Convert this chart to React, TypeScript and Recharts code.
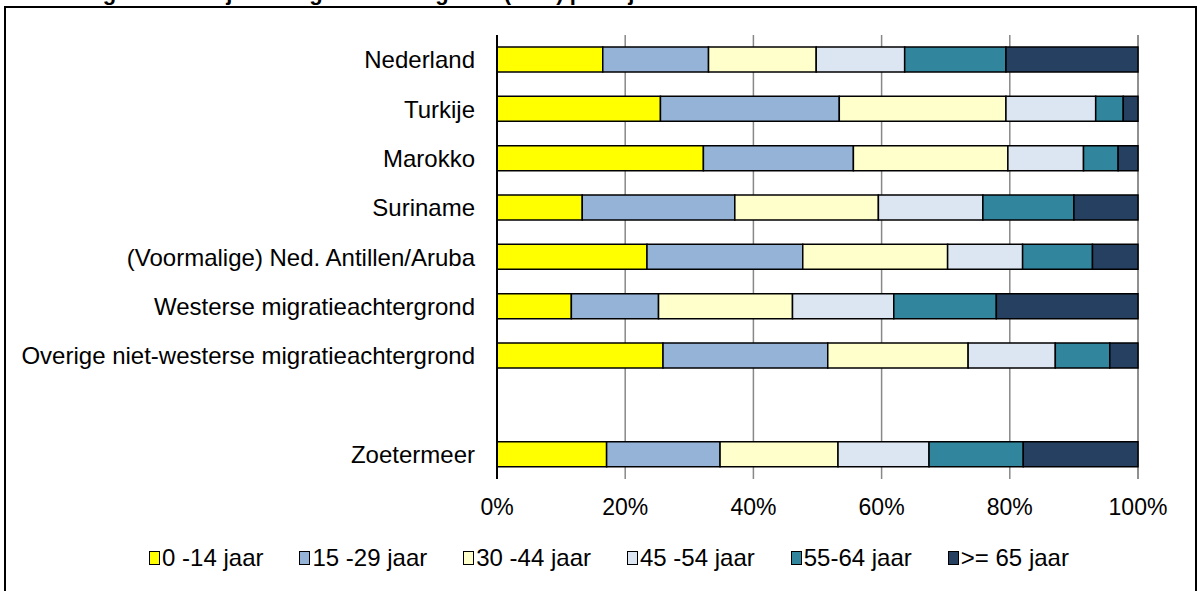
import React from "react";
import { BarChart, Bar, XAxis, YAxis, CartesianGrid } from "recharts";

const categories = [
  "Nederland",
  "Turkije",
  "Marokko",
  "Suriname",
  "(Voormalige) Ned. Antillen/Aruba",
  "Westerse migratieachtergrond",
  "Overige niet-westerse migratieachtergrond",
  "",
  "Zoetermeer",
];

const age0_14 = [16.5, 25.5, 32.2, 13.3, 23.4, 11.6, 25.9, null, 17.1];
const age15_29 = [16.5, 27.9, 23.4, 23.8, 24.3, 13.6, 25.7, null, 17.7];
const age30_44 = [16.8, 26.0, 24.1, 22.4, 22.6, 20.9, 21.9, null, 18.4];
const age45_54 = [13.8, 14.0, 11.8, 16.3, 11.7, 15.8, 13.6, null, 14.2];
const age55_64 = [15.8, 4.3, 5.4, 14.2, 10.9, 16.0, 8.5, null, 14.7];
const age65plus = [20.6, 2.3, 3.1, 10.0, 7.1, 22.1, 4.4, null, 17.9];

const xTicks = [0, 20, 40, 60, 80, 100];

const seriesNames = ["0 -14 jaar", "15 -29 jaar", "30 -44 jaar", "45 -54 jaar", "55-64 jaar", ">= 65 jaar"];
const seriesColors = ["#FFFF00", "#95B3D7", "#FFFFCC", "#DCE6F2", "#31859C", "#254061"];
const seriesValues = [age0_14, age15_29, age30_44, age45_54, age55_64, age65plus];

const titleText = "Bevolking naar leeftijd en migratieachtergrond (in %) per 1 januari 2019";

const data = categories.map((name, i) => {
  const row: any = { name };
  seriesValues.forEach((vals, s) => {
    row["s" + s] = vals[i];
  });
  return row;
});

const FONT = "'Liberation Sans', Arial, sans-serif";

export default function App() {
  return (
    <div style={{ position: "absolute", left: 0, top: 0, width: 1202, height: 591, overflow: "hidden", background: "#fff", fontFamily: FONT }}>
      <BarChart
        width={1202}
        height={591}
        data={data}
        layout="vertical"
        margin={{ top: 35, right: 64, bottom: 0, left: 0 }}
        barCategoryGap={0}
      >
        <CartesianGrid horizontal={false} vertical={true} stroke="#888888" strokeWidth={1.5} />
        <XAxis
          type="number"
          domain={[0, 100]}
          ticks={xTicks}
          tickFormatter={(v: number) => v + "%"}
          axisLine={false}
          tickLine={false}
          tickSize={0}
          tickMargin={20}
          height={112}
          interval={0}
          tick={{ fill: "#000", fontSize: 23, fontFamily: FONT }}
        />
        <YAxis
          type="category"
          dataKey="name"
          width={497}
          axisLine={{ stroke: "#000", strokeWidth: 2 }}
          tickLine={false}
          tickSize={0}
          tickMargin={22}
          interval={0}
          tick={{ fill: "#000", fontSize: 24, fontFamily: FONT }}
        />
        {seriesNames.map((n, s) => (
          <Bar
            key={n}
            dataKey={"s" + s}
            name={n}
            stackId="a"
            fill={seriesColors[s]}
            stroke="#000"
            strokeWidth={1.5}
            barSize={25}
            isAnimationActive={false}
          />
        ))}
      </BarChart>
      <div
        style={{
          position: "absolute",
          left: 8,
          top: 542,
          width: 1202,
          display: "flex",
          justifyContent: "center",
          gap: 36,
          fontSize: 24,
          lineHeight: "32px",
          color: "#000",
        }}
      >
        {seriesNames.map((n, s) => (
          <div key={n} style={{ display: "flex", alignItems: "center" }}>
            <span
              style={{
                display: "inline-block",
                width: 9,
                height: 12,
                background: seriesColors[s],
                border: "1.5px solid #000",
                marginRight: 2,
              }}
            />
            <span>{n}</span>
          </div>
        ))}
      </div>
      <svg width={1202} height={591} style={{ position: "absolute", left: 0, top: 0, pointerEvents: "none" }}>
        <rect x={5} y={7} width={1191} height={620} fill="none" stroke="#000" strokeWidth={2} />
        <text x={11} y={0} fontFamily={FONT} fontWeight="bold" fontSize={22} fill="#000">
          {titleText}
        </text>
      </svg>
    </div>
  );
}
